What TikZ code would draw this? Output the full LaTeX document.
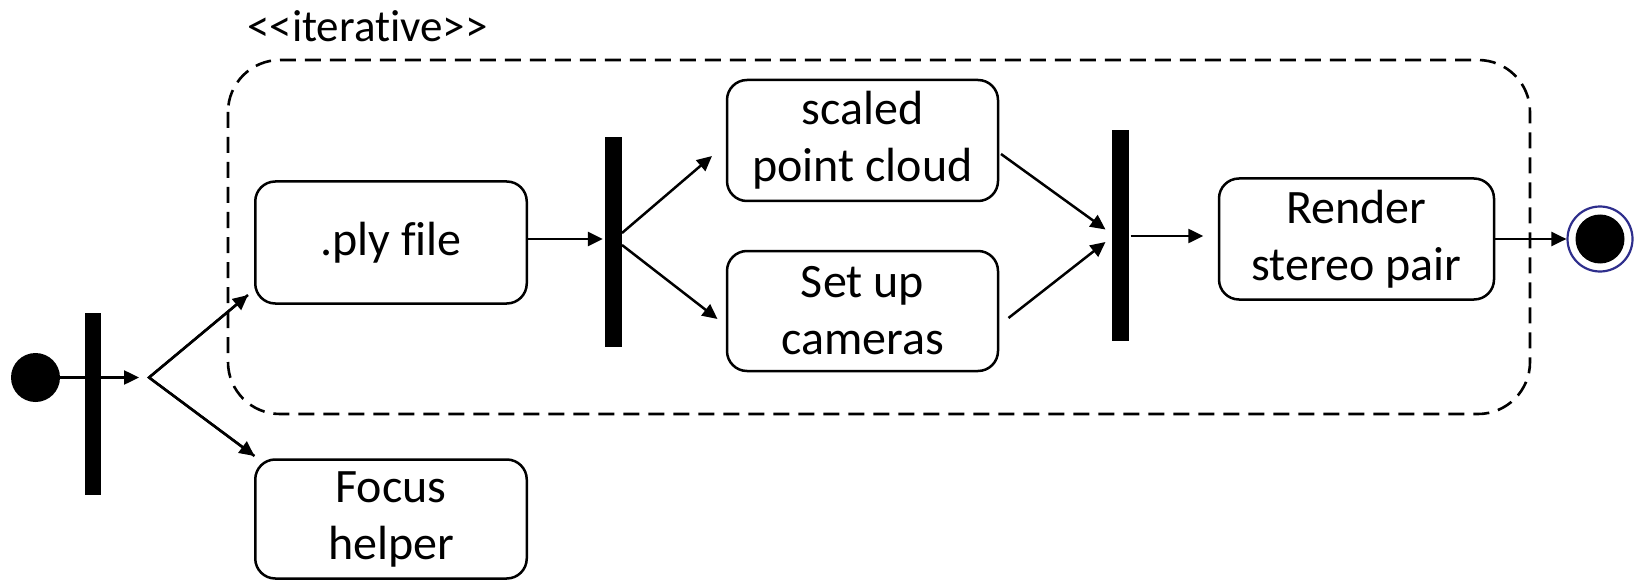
\documentclass[tikz,border=0pt]{standalone}
\usepackage{fontspec}
\setmainfont{Carlito}[Ligatures={NoCommon}]
\usetikzlibrary{arrows.meta,calc}
\definecolor{ringblue}{RGB}{46,46,140}
\tikzset{
  actbox/.style={draw, line width=2.5pt, rounded corners=20pt, align=center,
    inner sep=0pt, font=\fontsize{48}{57}\selectfont},
  syncbar/.style={fill=black, draw=none, minimum width=16.5pt, inner sep=0pt},
  flow/.style={line width=2.5pt, -{Triangle[length=15pt,width=14pt]}},
  plainline/.style={line width=2.5pt},
  region/.style={draw, line width=2.6pt, dash pattern=on 16pt off 9pt, rounded corners=52pt}
}
\begin{document}
\begin{tikzpicture}[x=1pt,y=-1pt]
\useasboundingbox (0,0) rectangle (1635,580);

% iterative region
\draw[region] (228,60) rectangle (1530,414);
\node[anchor=base west, inner sep=0pt, font=\fontsize{45}{54}\selectfont] (lbl) at (247,42) {{<}{<}iterative{>}{>}};

% activity boxes
\node[actbox, minimum width=271.5pt, minimum height=122pt] (ply) at (391,242.5) {.ply file};
\node[actbox, minimum width=271pt, minimum height=121pt] (scaled) at (862.5,140.5) {scaled\\point cloud};
\node[actbox, minimum width=271pt, minimum height=120pt] (cams) at (862.5,311) {Set up\\cameras};
\node[actbox, minimum width=275pt, minimum height=121pt] (render) at (1356.5,239) {Render\\stereo pair};
\node[actbox, minimum width=271.5pt, minimum height=119pt] (focus) at (391,519) {Focus\\helper};

% sync bars
\node[syncbar, minimum height=182pt] (bar1) at (92.75,404) {};
\node[syncbar, minimum height=210pt] (bar2) at (613.25,242) {};
\node[syncbar, minimum height=211pt] (bar3) at (1120.25,235.5) {};

% start and end
\node[circle, fill=black, minimum size=49pt, inner sep=0pt] (start) at (35.5,377.5) {};
\node[circle, draw=ringblue, line width=2.2pt, minimum size=65pt, inner sep=0pt] (endring) at (1600,239) {};
\node[circle, fill=black, minimum size=49pt, inner sep=0pt] (enddot) at (1600,239) {};

% free connector ends
\coordinate (fork) at (149,377.5);
\coordinate (t1) at (139,377.5);
\coordinate (tply) at (248,295);
\coordinate (tfocus) at (254.5,456);
\coordinate (b2u) at (622,233);
\coordinate (b2d) at (622,245);
\coordinate (tsc) at (712,156);
\coordinate (tca) at (717.5,319);
\coordinate (sco) at (1001,154);
\coordinate (cao) at (1008.5,318);
\coordinate (tb3u) at (1105.5,229.5);
\coordinate (tb3d) at (1105.5,242);

% connectors
\draw[flow] (start.east) -- (t1);
\draw[plainline, line join=miter] (tply) -- (fork) -- (tfocus);
\draw[flow] (fork) -- (tply);
\draw[flow] (fork) -- (tfocus);
\draw[flow] (ply.east |- 0,239) -- ($(bar2.west |- 0,239)+(-2,0)$);
\draw[flow] (b2u) -- (tsc);
\draw[flow] (b2d) -- (tca);
\draw[flow] (sco) -- (tb3u);
\draw[flow] (cao) -- (tb3d);
\draw[flow] ($(bar3.east |- 0,236)+(2,0)$) -- ($(render.west |- 0,236)+(-14.5,0)$);
\draw[flow] (render.east |- 0,239) -- (endring.west);
\end{tikzpicture}
\end{document}
